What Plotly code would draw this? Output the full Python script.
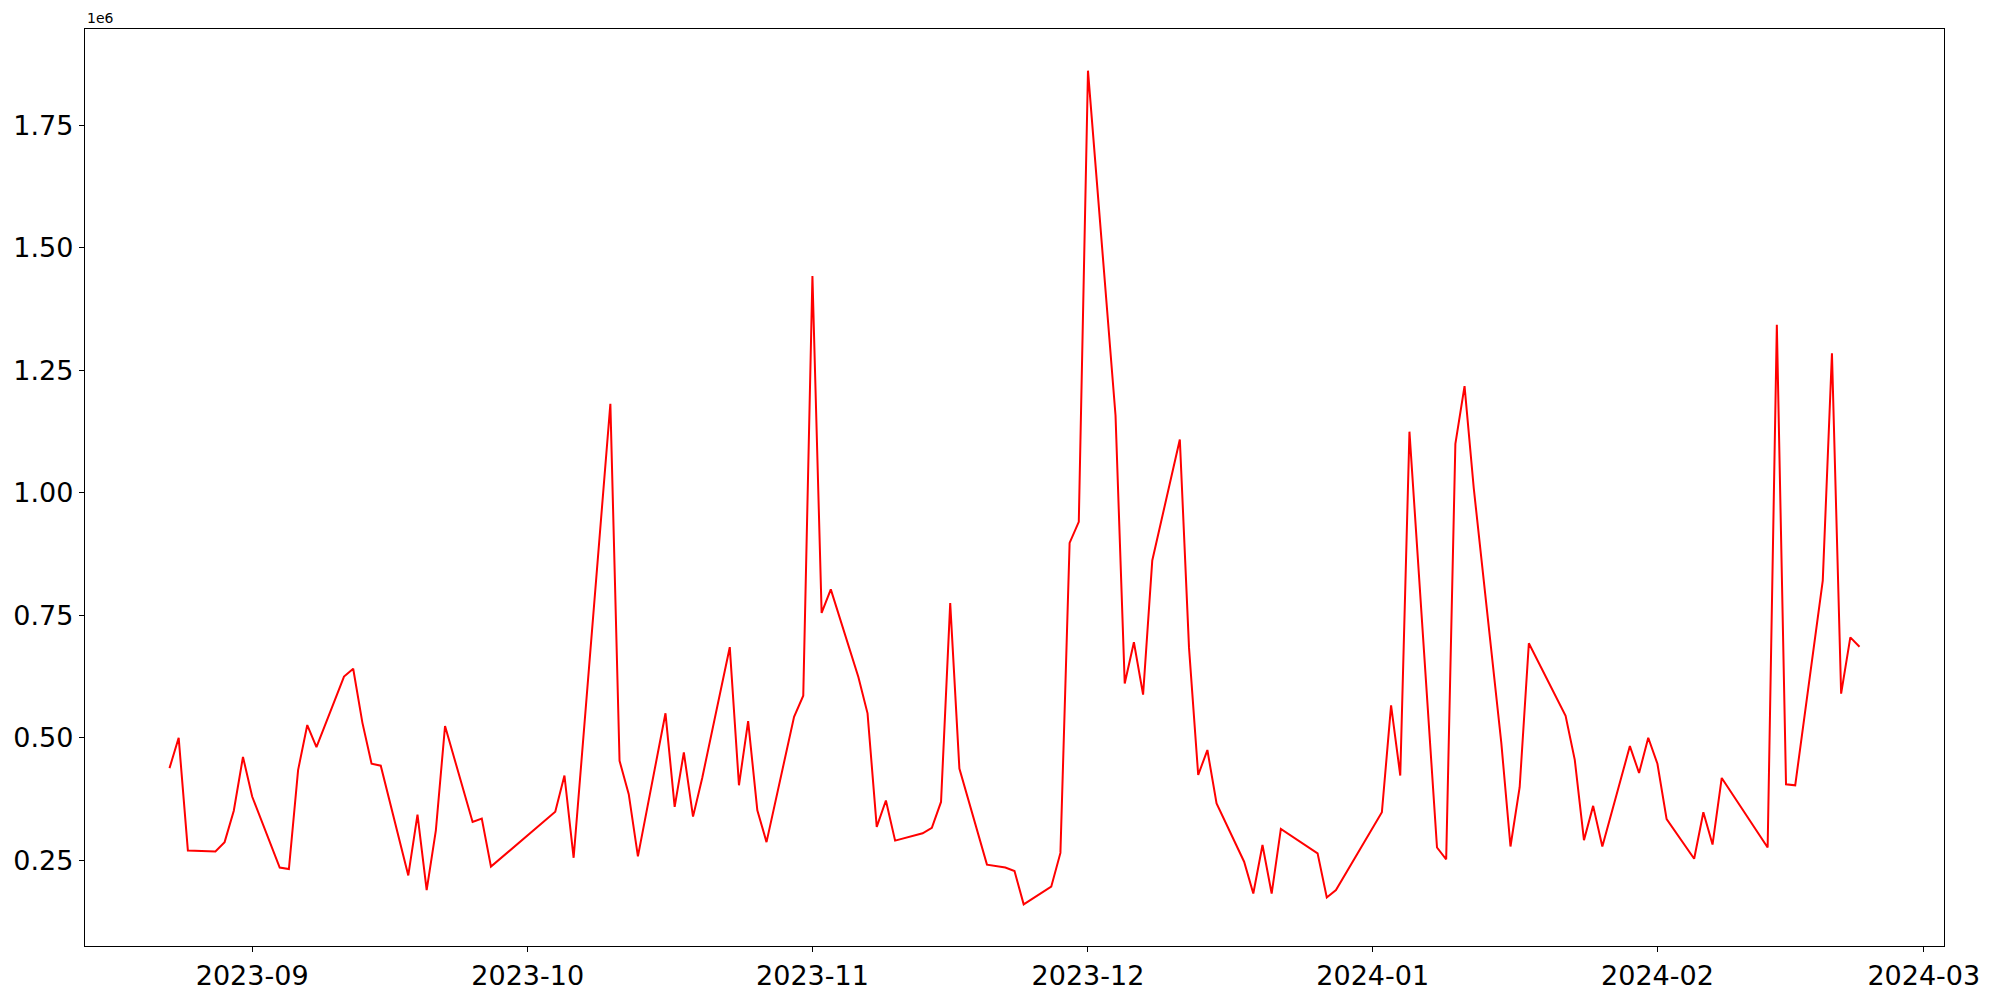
import pandas as pd
import plotly.graph_objects as go

# trading days (gaps are missing days in the source)
dates = [
    "2023-08-23", "2023-08-24", "2023-08-25", "2023-08-28", "2023-08-29", "2023-08-30", "2023-08-31",
    "2023-09-01", "2023-09-04", "2023-09-05", "2023-09-06", "2023-09-07", "2023-09-08",
    "2023-09-11", "2023-09-12", "2023-09-13", "2023-09-14", "2023-09-15",
    "2023-09-18", "2023-09-19", "2023-09-20", "2023-09-21", "2023-09-22",
    "2023-09-25", "2023-09-26", "2023-09-27",
    "2023-10-04", "2023-10-05", "2023-10-06",
    "2023-10-10", "2023-10-11", "2023-10-12", "2023-10-13",
    "2023-10-16", "2023-10-17", "2023-10-18", "2023-10-19", "2023-10-20",
    "2023-10-23", "2023-10-24", "2023-10-25", "2023-10-26", "2023-10-27",
    "2023-10-30", "2023-10-31", "2023-11-01", "2023-11-02", "2023-11-03",
    "2023-11-06", "2023-11-07", "2023-11-08", "2023-11-09", "2023-11-10",
    "2023-11-13", "2023-11-14", "2023-11-15", "2023-11-16", "2023-11-17",
    "2023-11-20", "2023-11-22", "2023-11-23", "2023-11-24",
    "2023-11-27", "2023-11-28", "2023-11-29", "2023-11-30", "2023-12-01",
    "2023-12-04", "2023-12-05", "2023-12-06", "2023-12-07", "2023-12-08",
    "2023-12-11", "2023-12-12", "2023-12-13", "2023-12-14", "2023-12-15",
    "2023-12-18", "2023-12-19", "2023-12-20", "2023-12-21", "2023-12-22",
    "2023-12-26", "2023-12-27", "2023-12-28",
    "2024-01-02", "2024-01-03", "2024-01-04", "2024-01-05",
    "2024-01-08", "2024-01-09", "2024-01-10", "2024-01-11", "2024-01-12",
    "2024-01-15", "2024-01-16", "2024-01-17", "2024-01-18",
    "2024-01-22", "2024-01-23", "2024-01-24", "2024-01-25", "2024-01-26",
    "2024-01-29", "2024-01-30", "2024-01-31", "2024-02-01", "2024-02-02",
    "2024-02-05", "2024-02-06", "2024-02-07", "2024-02-08",
    "2024-02-13", "2024-02-14", "2024-02-15", "2024-02-16",
    "2024-02-19", "2024-02-20", "2024-02-21", "2024-02-22", "2024-02-23",
]

volume = [
    438000, 500000, 270000, 268000, 287000, 351000, 461000,
    380000, 235000, 232000, 434000, 526000, 481000,
    625000, 641000, 531000, 447000, 443000,
    219000, 343000, 189000, 311000, 524000,
    328000, 335000, 237000,
    349000, 423000, 255000,
    1182000, 453000, 385000, 258000,
    550000, 359000, 470000, 339000, 418000,
    685000, 403000, 534000, 352000, 287000,
    543000, 586000, 1443000, 755000, 803000,
    624000, 550000, 318000, 372000, 290000,
    305000, 316000, 369000, 775000, 437000,
    241000, 235000, 228000, 160000,
    196000, 265000, 898000, 941000, 1862000,
    1158000, 611000, 695000, 588000, 862000,
    1109000, 684000, 424000, 475000, 366000,
    247000, 182000, 281000, 182000, 314000,
    264000, 174000, 189000,
    348000, 566000, 423000, 1125000,
    276000, 252000, 1100000, 1218000, 1010000,
    490000, 278000, 399000, 693000,
    545000, 455000, 291000, 361000, 278000,
    483000, 428000, 500000, 447000, 334000,
    253000, 348000, 282000, 418000,
    276000, 1343000, 405000, 403000,
    821000, 1285000, 590000, 705000, 686000,
]

x_ticks = ["2023-09-01", "2023-10-01", "2023-11-01", "2023-12-01",
           "2024-01-01", "2024-02-01", "2024-03-01"]
y_ticks = [250000, 500000, 750000, 1000000, 1250000, 1500000, 1750000]
y_ticktext = ["0.25", "0.50", "0.75", "1.00", "1.25", "1.50", "1.75"]

df = pd.DataFrame({"Date": pd.to_datetime(dates), "Volume": volume})

# matplotlib-like 5% margins around the data
span = df["Date"].max() - df["Date"].min()
x_range = [df["Date"].min() - span * 0.05, df["Date"].max() + span * 0.05]
vmin, vmax = df["Volume"].min(), df["Volume"].max()
pad = (vmax - vmin) * 0.05
y_range = [vmin - pad, vmax + pad]

fig = go.Figure()
fig.add_trace(go.Scatter(x=df["Date"], y=df["Volume"], mode="lines",
    line=dict(color="red", width=2), showlegend=False))

axis_style = dict(showline=True, linecolor="black", linewidth=1.3, mirror=True,
                  ticks="outside", ticklen=5, tickwidth=1.3, tickcolor="black",
                  showgrid=False, zeroline=False, automargin=False,
                  tickfont=dict(family="DejaVu Sans", size=27, color="black"))

fig.update_xaxes(range=x_range, tickvals=pd.to_datetime(x_ticks),
                 tickformat="%Y-%m", **axis_style)
fig.update_yaxes(range=y_range, tickvals=y_ticks, ticktext=y_ticktext,
                 **axis_style)

fig.add_annotation(x=0, y=1, xref="paper", yref="paper", text="1e6",
    showarrow=False, xanchor="left", yanchor="bottom", yshift=1,
    font=dict(family="DejaVu Sans", size=14, color="black"))

# page body adds 8px, so margins are offset to keep the axes box in place
fig.update_layout(width=2000, height=1000,
    margin=dict(l=77, r=64, t=21, b=62),
    plot_bgcolor="white", paper_bgcolor="white")

fig.write_html("out.html")
